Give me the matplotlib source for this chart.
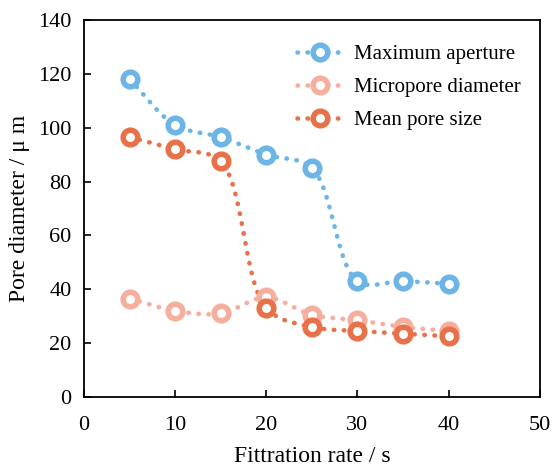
import matplotlib
matplotlib.use("Agg")
import matplotlib.pyplot as plt
import numpy as np

plt.rcParams['font.family'] = ['Liberation Serif', 'DejaVu Serif']

time_s = [5, 10, 15, 20, 25, 30, 35, 40]
max_aperture = [118, 101, 96.5, 90, 85, 43, 43, 42]
micropore = [36.5, 32, 31, 37, 30.5, 28.5, 26, 24.5]
mean_pore = [96.5, 92, 87.5, 33, 26, 24.5, 23.5, 22.5]


def smooth(ax, x, y, n=40, alpha=0.5):
    # centripetal Catmull-Rom through the points, worked out in display space
    pts = ax.transData.transform(np.column_stack([x, y]))
    pts = np.vstack([2 * pts[0] - pts[1], pts, 2 * pts[-1] - pts[-2]])
    out = []
    for i in range(1, len(pts) - 2):
        p0, p1, p2, p3 = pts[i - 1:i + 3]
        t0 = 0.0
        t1 = t0 + np.linalg.norm(p1 - p0) ** alpha
        t2 = t1 + np.linalg.norm(p2 - p1) ** alpha
        t3 = t2 + np.linalg.norm(p3 - p2) ** alpha
        t = np.linspace(t1, t2, n, endpoint=False)[:, None]
        a1 = (t1 - t) / (t1 - t0) * p0 + (t - t0) / (t1 - t0) * p1
        a2 = (t2 - t) / (t2 - t1) * p1 + (t - t1) / (t2 - t1) * p2
        a3 = (t3 - t) / (t3 - t2) * p2 + (t - t2) / (t3 - t2) * p3
        b1 = (t2 - t) / (t2 - t0) * a1 + (t - t0) / (t2 - t0) * a2
        b2 = (t3 - t) / (t3 - t1) * a2 + (t - t1) / (t3 - t1) * a3
        out.append((t2 - t) / (t2 - t1) * b1 + (t - t1) / (t2 - t1) * b2)
    out.append(pts[-2][None, :])
    curve = ax.transData.inverted().transform(np.vstack(out))
    return curve[:, 0], curve[:, 1]


series = [
    ("Maximum aperture", max_aperture, "#6cb5e6"),
    ("Micropore diameter", micropore, "#f6ae9f"),
    ("Mean pore size", mean_pore, "#e8714a"),
]

fig = plt.figure(figsize=(5.53, 4.68), dpi=100)
ax = fig.add_axes([0.152, 0.152, 0.824, 0.805])
ax.set_xlim(0, 50)
ax.set_ylim(0, 140)

dots = (0, (0.1, 2.1))
mk = dict(marker='o', ms=10.5, mfc='white', mew=4)
for label, vals, col in series:
    sx, sy = smooth(ax, time_s, vals)
    ax.plot(sx, sy, color=col, lw=3.3, linestyle=dots,
            dash_capstyle='round', zorder=2)
    ax.plot(time_s, vals, linestyle='none', mec=col, zorder=3, **mk)
    # legend proxy: dotted line with the marker in the middle
    ax.plot([], [], color=col, lw=3.3, linestyle=dots,
            dash_capstyle='round', mec=col, label=label, **mk)

ax.set_xticks(range(0, 51, 10))
ax.set_yticks(range(0, 141, 20))
ax.tick_params(direction='in', length=5, width=1.2, labelsize=16)
ax.tick_params(axis='x', pad=14)
ax.tick_params(axis='y', pad=9)
for sp in ax.spines.values():
    sp.set_linewidth(1.3)

ax.set_xlabel("Fittration rate / s", fontsize=17, labelpad=8)
ax.set_ylabel("Pore diameter / μ m", fontsize=17, labelpad=6)

ax.legend(loc='upper right', frameon=False, fontsize=15, handlelength=2.2,
          handletextpad=0.55, labelspacing=0.65, bbox_to_anchor=(1.0, 0.985))

fig.savefig("out.png", dpi=100)
